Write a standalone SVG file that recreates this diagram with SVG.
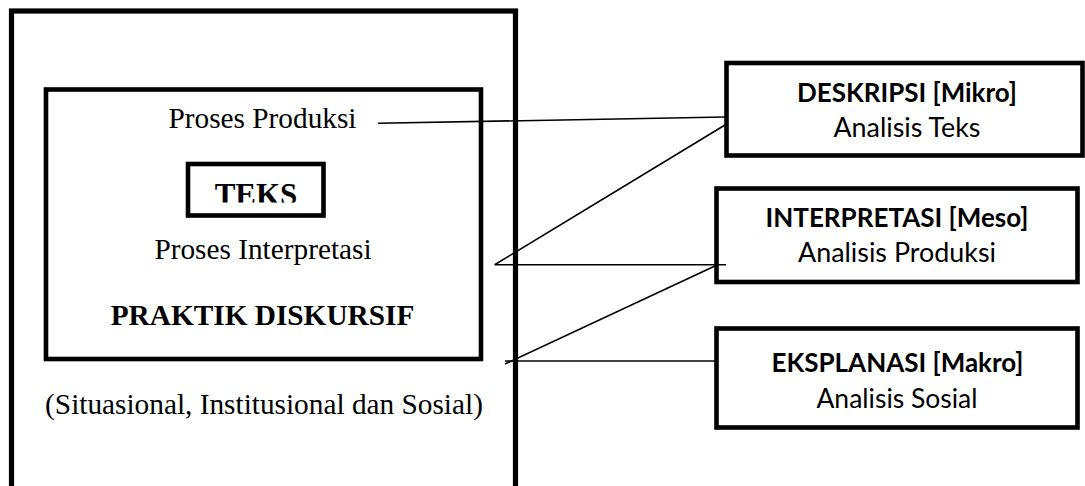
<svg xmlns="http://www.w3.org/2000/svg" width="1085" height="486" viewBox="0 0 1085 486">
  <style>
    .box { fill: #ffffff; stroke: #000000; stroke-width: 4.6; }
    .outer { fill: #ffffff; stroke: #000000; stroke-width: 5.2; }
    .serif { font-family: "Liberation Serif", "Times New Roman", serif; font-size: 29.3px; fill: #000000; text-anchor: middle; }
    .serif-b { font-weight: bold; }
    .sans { font-family: Lato, "Liberation Sans", sans-serif; font-size: 26px; fill: #000000; text-anchor: middle; }
    .sans-b { font-weight: bold; }
    .conn { stroke: #000000; stroke-width: 1.6; fill: none; stroke-linecap: butt; }
  </style>
  <defs>
    <clipPath id="teksClip">
      <rect x="190" y="166" width="132" height="36.5"/>
    </clipPath>
  </defs>
  <rect x="0" y="0" width="1085" height="486" fill="#ffffff"/>

  <g id="outer-context">
    <rect class="outer" x="11.5" y="11" width="504" height="490"/>
    <text class="serif" x="264" y="413.5">(Situasional, Institusional dan Sosial)</text>
  </g>

  <g id="praktik-diskursif">
    <rect class="box" x="46" y="89.5" width="435" height="269.5"/>
    <text class="serif" x="262.5" y="128">Proses Produksi</text>
    <text class="serif" x="263" y="258.5">Proses Interpretasi</text>
    <text class="serif serif-b" x="262.5" y="325">PRAKTIK DISKURSIF</text>
  </g>

  <g id="teks">
    <rect class="box" x="188" y="164" width="135.5" height="51.5"/>
    <text class="serif serif-b" x="256" y="204.5" style="font-size:31px" clip-path="url(#teksClip)">TEKS</text>
  </g>

  <g id="deskripsi">
    <rect class="box" x="726.5" y="63" width="356" height="92.5"/>
    <text class="sans sans-b" x="907" y="101.5" textLength="220" lengthAdjust="spacingAndGlyphs">DESKRIPSI [Mikro]</text>
    <text class="sans" x="907" y="136.7" textLength="147" lengthAdjust="spacingAndGlyphs">Analisis Teks</text>
  </g>

  <g id="interpretasi">
    <rect class="box" x="716.5" y="188.5" width="361" height="93.5"/>
    <text class="sans sans-b" x="897" y="226.7" textLength="263" lengthAdjust="spacingAndGlyphs">INTERPRETASI [Meso]</text>
    <text class="sans" x="897" y="262" textLength="198" lengthAdjust="spacingAndGlyphs">Analisis Produksi</text>
  </g>

  <g id="eksplanasi">
    <rect class="box" x="716.5" y="328.5" width="361" height="99"/>
    <text class="sans sans-b" x="897.5" y="371.7" textLength="252" lengthAdjust="spacingAndGlyphs">EKSPLANASI [Makro]</text>
    <text class="sans" x="897" y="407.5" textLength="161" lengthAdjust="spacingAndGlyphs">Analisis Sosial</text>
  </g>

  <g id="connectors">
    <line class="conn" x1="378" y1="123.3" x2="725" y2="117"/>
    <line class="conn" x1="725" y1="125" x2="494.7" y2="264.7"/>
    <line class="conn" x1="494.7" y1="264.7" x2="726" y2="264.7"/>
    <line class="conn" x1="716" y1="265.5" x2="505" y2="364"/>
    <line class="conn" x1="505" y1="361" x2="715" y2="361"/>
  </g>
</svg>
